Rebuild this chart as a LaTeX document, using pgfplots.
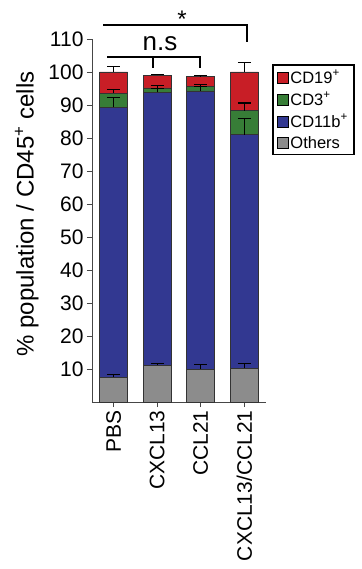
\documentclass[border=0pt]{standalone}
\usepackage{fontspec}
\setmainfont{Liberation Sans}
\usepackage{pgfplots}
\usepackage{pgfplotstable}
\pgfplotsset{compat=1.18}
\definecolor{cRed}{RGB}{200,30,38}
\definecolor{cGreen}{RGB}{55,125,55}
\definecolor{cBlue}{RGB}{50,56,145}
\definecolor{cGray}{RGB}{140,140,140}
\definecolor{axgray}{RGB}{70,70,70}

\pgfplotstableread{
x others cdb cdt cdn
0 7.5  81.8 4.3 6.4
1 11.2 82.6 1.4 3.8
2 10.0 84.3 1.4 2.9
3 10.2 70.8 7.3 11.7
}\bars

\pgfplotstableread{
x o oe b be t te n ne
0 7.5  0.7 89.3 3.0 93.6 1.1 100.0 1.8
1 11.2 0.6 93.8 1.2 95.2 0.7 99.0  0.3
2 10.0 1.4 94.3 1.3 95.7 0.5 98.6  0.4
3 10.2 1.5 81.0 5.0 88.3 2.3 100.0 3.0
}\errs

\pgfplotsset{base/.style={width=174pt,height=363pt,scale only axis,
  xmin=-0.5,xmax=3.5,ymin=0,ymax=110,clip=false}}
\pgfplotsset{eb/.style={only marks, mark=*, mark options={opacity=0},
  error bars/.cd, y dir=plus, y explicit,
  error bar style={black,line width=1.1pt},
  error mark options={rotate=90,mark size=6.5pt,black,line width=1.1pt,opacity=1}}}

\begin{document}
\begin{tikzpicture}
\path[use as bounding box] (-92pt,-167pt) rectangle (269pt,402pt);
\begin{axis}[base,
  ybar stacked, bar width=28pt,
  axis x line*=bottom, axis y line*=left,
  axis line style={axgray,line width=0.8pt},
  tick align=outside, major tick length=5pt,
  tick style={axgray,line width=0.8pt},
  ytick={10,20,...,110},
  xtick={0,1,2,3},
  xticklabels={PBS,CXCL13,CCL21,CXCL13/CCL21},
  x tick label style={rotate=90,anchor=east,font=\fontsize{21}{21}\selectfont},
  y tick label style={font=\fontsize{21}{21}\selectfont},
  /pgf/number format/assume math mode=true,
  ylabel={\% population / CD45\textsuperscript{+} cells},
  ylabel style={font=\fontsize{24}{24}\selectfont,at={(axis description cs:-0.375,0.518)},anchor=center},
  reverse legend,
  legend cell align=left,
  legend image code/.code={\draw[#1,draw=black,line width=0.6pt] (0pt,-5.5pt) rectangle (11pt,5.5pt);},
  legend style={at={(axis description cs:1.034,0.93)},anchor=north west,
    draw=black,line width=1.8pt,font=\fontsize{16.5}{16.5}\selectfont,
    row sep=3.5pt, inner xsep=4pt, inner ysep=3pt},
]
\addplot[fill=cGray,draw=black!80,line width=0.6pt] table[x=x,y=others]{\bars};
\addplot[fill=cBlue,draw=black!80,line width=0.6pt] table[x=x,y=cdb]{\bars};
\addplot[fill=cGreen,draw=black!80,line width=0.6pt] table[x=x,y=cdt]{\bars};
\addplot[fill=cRed,draw=black!80,line width=0.6pt] table[x=x,y=cdn]{\bars};
\legend{Others,CD11b\textsuperscript{+},CD3\textsuperscript{+},CD19\textsuperscript{+}}
% significance brackets
\draw[black,line width=1.6pt] (axis cs:-0.247,114.2) -- (axis cs:3.063,114.2) -- (axis cs:3.063,109.1);
\draw[black,line width=1.6pt] (axis cs:-0.155,104.5) -- (axis cs:1.983,104.5) -- (axis cs:1.983,101.2);
\draw[black,line width=1.6pt] (axis cs:0.902,104.5) -- (axis cs:0.902,101.2);
\node[anchor=base,font=\fontsize{26}{26}\selectfont,inner sep=0pt] at (axis cs:1.063,106.6) {n.s};
\node[anchor=base,font=\fontsize{24}{24}\selectfont,inner sep=0pt] at (axis cs:1.57,113.6) {*};
\end{axis}
\begin{axis}[base, hide axis]
\addplot[eb] table[x=x,y=o,y error=oe]{\errs};
\addplot[eb] table[x=x,y=b,y error=be]{\errs};
\addplot[eb] table[x=x,y=t,y error=te]{\errs};
\addplot[eb] table[x=x,y=n,y error=ne]{\errs};
\end{axis}
\end{tikzpicture}
\end{document}
